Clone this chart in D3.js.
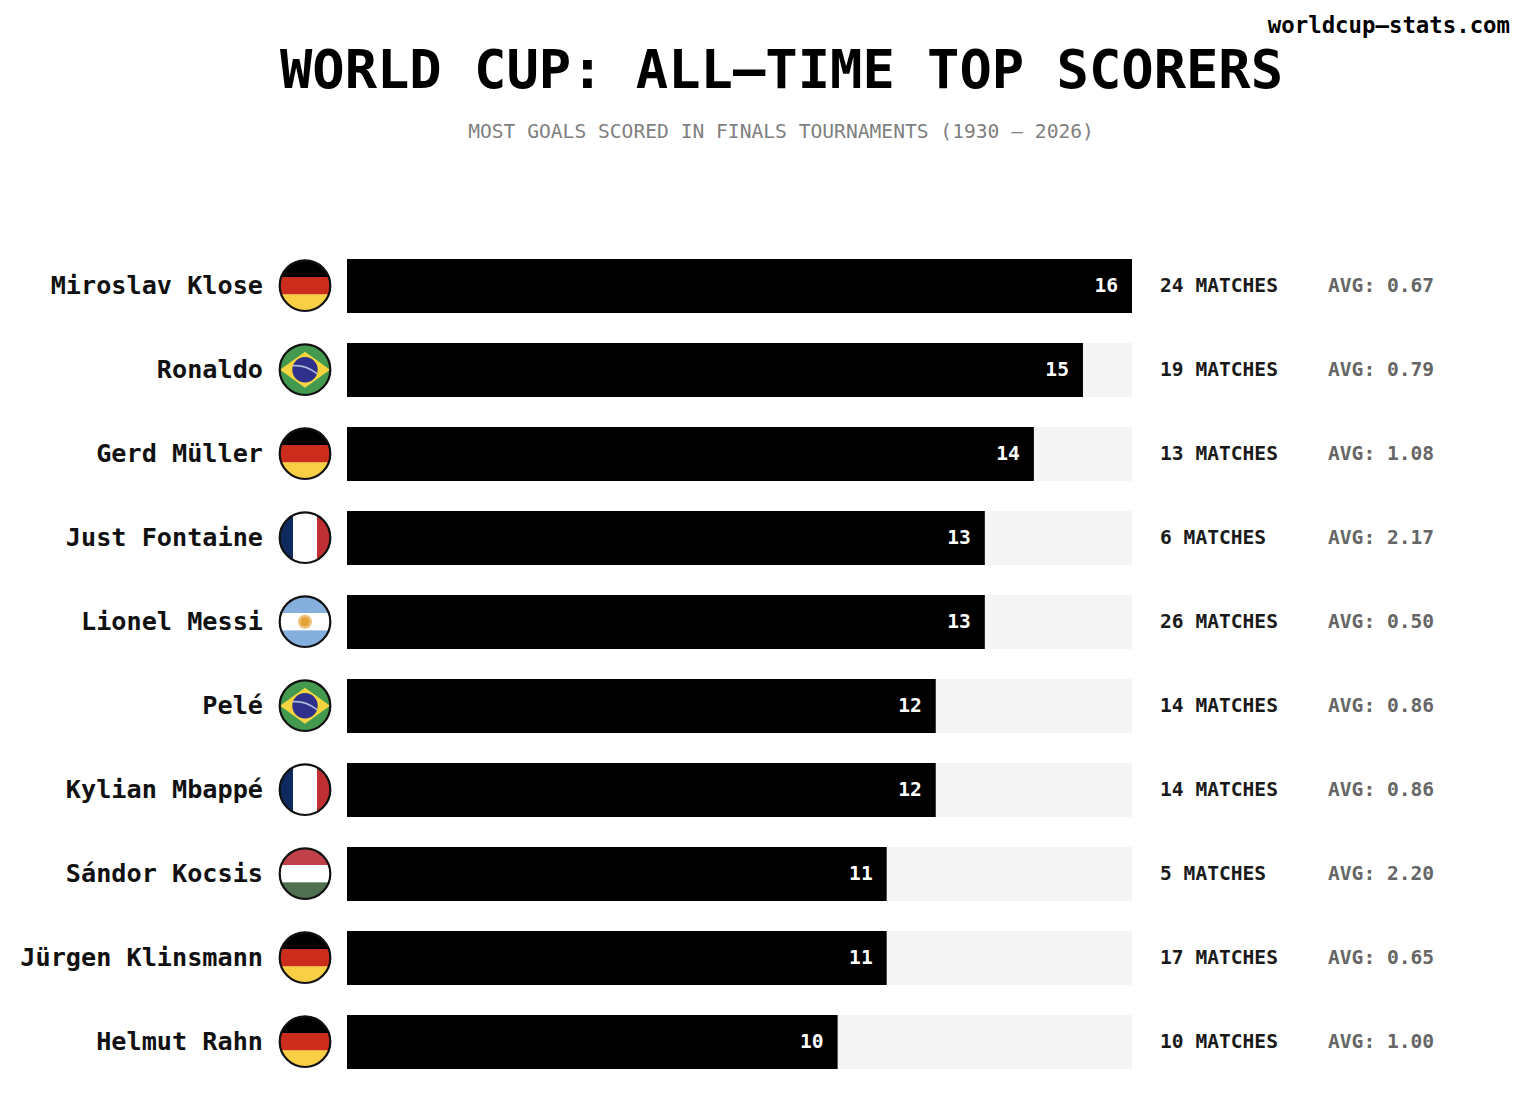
<!DOCTYPE html>
<html><head><meta charset="utf-8">
<script src="https://cdn.jsdelivr.net/npm/d3@7"></script>
<style>html,body{margin:0;padding:0;background:#fff}svg{display:block}text{font-family:"DejaVu Sans Mono",monospace}</style>
</head><body><svg id="c" width="1536" height="1101"></svg>
<script>
const players=["Miroslav Klose","Ronaldo","Gerd Müller","Just Fontaine","Lionel Messi","Pelé","Kylian Mbappé","Sándor Kocsis","Jürgen Klinsmann","Helmut Rahn"];
const goals=[16,15,14,13,13,12,12,11,11,10];
const matches=[24,19,13,6,26,14,14,5,17,10];
const avgs=["0.67","0.79","1.08","2.17","0.50","0.86","0.86","2.20","0.65","1.00"];
const flags=["de","br","de","fr","ar","br","fr","hu","de","de"];

const svg=d3.select("#c");
const x=d3.scaleLinear().domain([0,16]).range([347,1132]);
const y=d3.scaleBand().domain(players).range([244,1084]).paddingInner(30/84).paddingOuter(15/84);
const bh=y.bandwidth();

svg.append("text").attr("x",781.5).attr("y",88).attr("text-anchor","middle").attr("font-size",53.75).attr("font-weight",700).attr("fill","#000").text("WORLD CUP: ALL–TIME TOP SCORERS");
svg.append("text").attr("x",781).attr("y",138).attr("text-anchor","middle").attr("font-size",19.62).attr("fill","#808080").text("MOST GOALS SCORED IN FINALS TOURNAMENTS (1930 – 2026)");
svg.append("text").attr("x",1510).attr("y",33).attr("text-anchor","end").attr("font-size",22.35).attr("font-weight",700).attr("fill","#000").text("worldcup–stats.com");

const defs=svg.append("defs");
defs.append("clipPath").attr("id","flagclip").append("circle").attr("r",25.5);

function stripes(g,cols,weights,vertical){
  const total=d3.sum(weights);
  const s=d3.scaleLinear().domain([0,total]).range([-26,26]);
  let acc=0;
  cols.forEach((c,i)=>{
    const a=s(acc),b=s(acc+weights[i]);acc+=weights[i];
    if(vertical) g.append("rect").attr("y",-26).attr("height",52).attr("x",a).attr("width",b-a+.3).attr("fill",c);
    else g.append("rect").attr("x",-26).attr("width",52).attr("y",a).attr("height",b-a+.3).attr("fill",c);
  });
}
const painters={
  de:g=>stripes(g,["#000000","#cb2c1c","#f9cf45"],[1,1,1],false),
  fr:g=>stripes(g,["#0f2a5e","#ffffff","#bf2f33"],[14,24,14],true),
  hu:g=>stripes(g,["#c1414a","#ffffff","#4f7051"],[1,1,1],false),
  ar:g=>{stripes(g,["#85afdd","#ffffff","#85afdd"],[1,1,1],false);
    g.append("circle").attr("r",7).attr("fill","#ecc27a");
    g.append("circle").attr("r",4.5).attr("fill","#e3a437");},
  br:g=>{g.append("rect").attr("x",-26).attr("y",-26).attr("width",52).attr("height",52).attr("fill","#439a4e");
    g.append("path").attr("d","M-25,0L0,-18L25,0L0,18Z").attr("fill","#f4d53f");
    g.append("circle").attr("r",12.7).attr("fill","#2f2f8c");
    g.append("path").attr("d","M-12,-4Q1,-5 12,4").attr("fill","none").attr("stroke","#a9bcd8").attr("stroke-width",1.6);}
};

const rows=svg.selectAll("g.row").data(players).join("g").attr("class","row");
rows.append("rect").attr("x",x(0)).attr("y",d=>y(d)).attr("width",x(16)-x(0)).attr("height",bh).attr("fill","#f5f5f5");
rows.append("rect").attr("x",x(0)).attr("y",d=>y(d)).attr("width",(d,i)=>x(goals[i])-x(0)).attr("height",bh).attr("fill","#000");
rows.append("text").attr("x",263).attr("y",d=>y(d)+bh/2+8).attr("text-anchor","end").attr("font-size",25.2).attr("font-weight",700).attr("fill","#111").text(d=>d);
rows.append("text").attr("x",(d,i)=>x(goals[i])-14).attr("y",d=>y(d)+bh/2+6).attr("text-anchor","end").attr("font-size",19.6).attr("font-weight",700).attr("fill","#fff").text((d,i)=>goals[i]);
rows.append("text").attr("x",1160).attr("y",d=>y(d)+bh/2+6).attr("font-size",19.6).attr("font-weight",700).attr("fill","#1a1a1a").text((d,i)=>matches[i]+" MATCHES");
rows.append("text").attr("x",1328).attr("y",d=>y(d)+bh/2+6).attr("font-size",19.6).attr("font-weight",700).attr("fill","#666").text((d,i)=>"AVG: "+avgs[i]);
rows.each(function(d,i){
  const f=d3.select(this).append("g").attr("transform",`translate(305,${y(d)+bh/2-0.3})`);
  const inner=f.append("g").attr("clip-path","url(#flagclip)");
  painters[flags[i]](inner);
  f.append("circle").attr("r",25.3).attr("fill","none").attr("stroke","#111").attr("stroke-width",2.2);
});
</script></body></html>
